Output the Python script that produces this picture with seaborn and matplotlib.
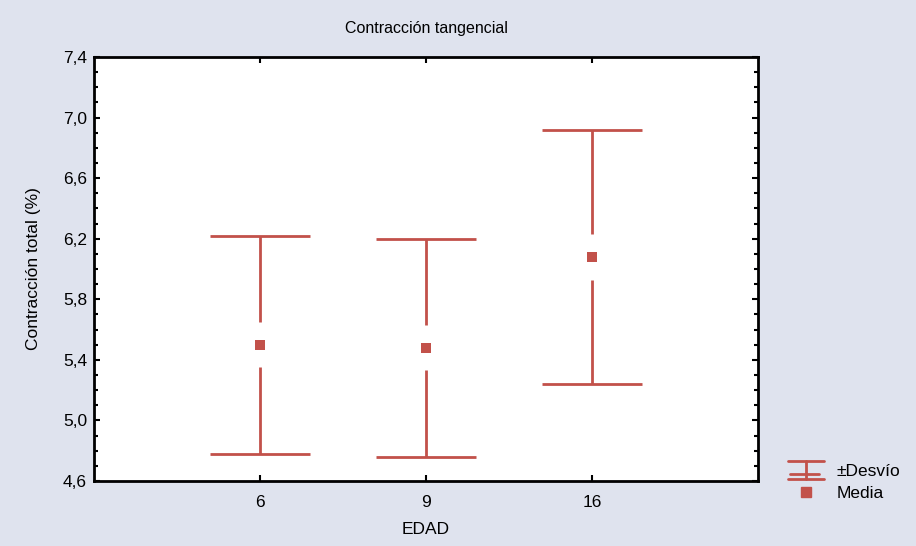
"""Contracción tangencial: media ± desvío por edad."""

import matplotlib
matplotlib.use("Agg")
import matplotlib.pyplot as plt
from matplotlib.ticker import MultipleLocator, FuncFormatter
from matplotlib.lines import Line2D
from matplotlib.legend_handler import HandlerBase
import seaborn as sns
import numpy as np
import pandas as pd

# data
edades = ["6", "9", "16"]
medias = [5.50, 5.48, 6.08]
desvios = [0.72, 0.72, 0.84]

RED = "#c2514a"
BG = "#dfe3ee"


class DesvioHandler(HandlerBase):
    """Legend glyph: caps, stem and a short bar near the bottom."""

    def create_artists(self, legend, orig_handle, xdescent, ydescent,
                       width, height, fontsize, trans):
        x0, x1 = -xdescent, -xdescent + width
        xm = (x0 + x1) / 2
        y0, y1 = -ydescent - 2, -ydescent + height + 2
        ym = y0 + (y1 - y0) * 0.25
        kw = dict(color=RED, lw=2, transform=trans)
        return [
            Line2D([x0, x1], [y1, y1], **kw),
            Line2D([x0, x1], [y0, y0], **kw),
            Line2D([xm, xm], [y0, y1], **kw),
            Line2D([x0 + 2, x1 - 4], [ym, ym], **kw),
        ]


sns.set_style("ticks")
plt.rcParams["font.family"] = ["Liberation Sans", "DejaVu Sans"]
plt.rcParams["text.color"] = "black"
plt.rcParams["axes.labelcolor"] = "black"
plt.rcParams["xtick.color"] = "black"
plt.rcParams["ytick.color"] = "black"

df = pd.DataFrame({"EDAD": edades, "media": medias, "desvio": desvios})
df["pos"] = np.arange(len(df))

fig = plt.figure(figsize=(9.16, 5.46), dpi=100, facecolor=BG)
ax = fig.add_axes([94 / 916, 1 - 481 / 546, (758 - 94) / 916, (481 - 57) / 546])
ax.set_facecolor("white")

# whiskers with a small gap around the mean marker, plus caps
gap = 0.15
cap = 0.30
ax.vlines(df["pos"], df["media"] + gap, df["media"] + df["desvio"], color=RED, lw=2)
ax.vlines(df["pos"], df["media"] - df["desvio"], df["media"] - gap, color=RED, lw=2)
ax.hlines(df["media"] + df["desvio"], df["pos"] - cap, df["pos"] + cap, color=RED, lw=2)
ax.hlines(df["media"] - df["desvio"], df["pos"] - cap, df["pos"] + cap, color=RED, lw=2)

sns.scatterplot(data=df, x="pos", y="media", marker="s", s=55, color=RED,
                edgecolor="none", ax=ax, legend=False, zorder=3)

ax.set_xlim(-1, 3)
ax.set_ylim(4.6, 7.4)
ax.set_xticks(df["pos"])
ax.set_xticklabels(edades, fontsize=12.5)
ax.yaxis.set_major_locator(MultipleLocator(0.4, offset=0.2))
ax.yaxis.set_minor_locator(MultipleLocator(0.1))
ax.yaxis.set_major_formatter(FuncFormatter(lambda v, _: f"{v:.1f}".replace(".", ",")))
ax.tick_params(axis="y", labelsize=12.5)
ax.tick_params(which="both", direction="in", top=True, right=True,
               length=4, width=1.5, color="black")
ax.tick_params(axis="x", pad=10)
ax.tick_params(axis="y", pad=5)
ax.tick_params(which="minor", length=3)

for sp in ax.spines.values():
    sp.set_linewidth(2)
    sp.set_color("black")

ax.set_xlabel("EDAD", fontsize=12.5, labelpad=9)
ax.set_ylabel("Contracción total (%)", fontsize=12.5, labelpad=16)
ax.set_title("Contracción tangencial", fontsize=11.5, pad=17)

handles = [
    Line2D([0], [0], color=RED),
    Line2D([0], [0], color=RED, lw=0, marker="s", markersize=7),
]
leg = fig.legend(handles, ["±Desvío", "Media"], loc="upper left",
                 bbox_to_anchor=(772 / 916, 1 - 448 / 546), frameon=False,
                 fontsize=12.5, handlelength=2.1, handletextpad=0.7, labelspacing=0.4,
                 handler_map={handles[0]: DesvioHandler()})

fig.savefig("out.png", dpi=100, facecolor=BG)
